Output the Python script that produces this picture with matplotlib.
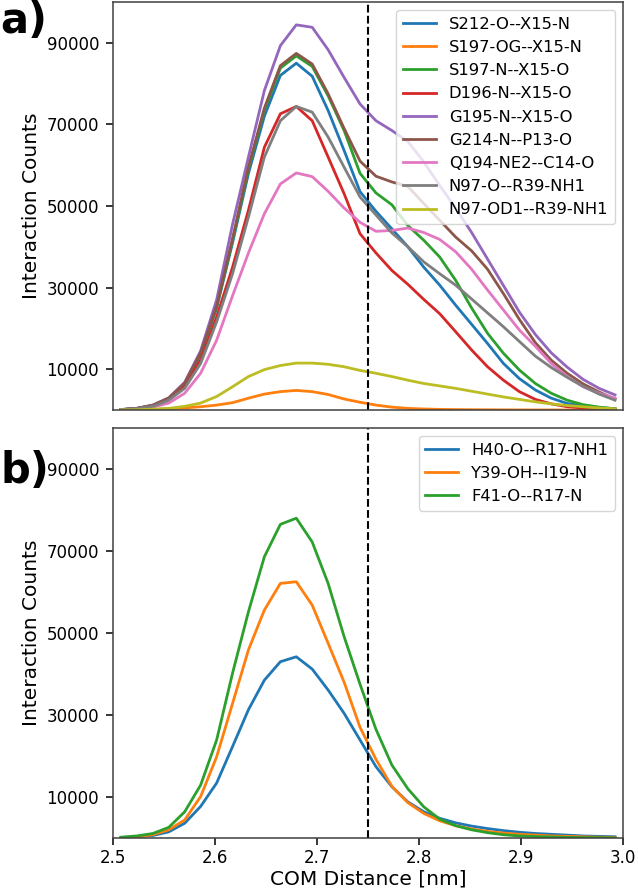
import numpy as np
import matplotlib
matplotlib.use("Agg")
import matplotlib.pyplot as plt

# bin centres of the COM distance histogram [nm]
x = [2.5078, 2.5234, 2.5391, 2.5547, 2.5703, 2.5859, 2.6016, 2.6172,
     2.6328, 2.6484, 2.6641, 2.6797, 2.6953, 2.7109, 2.7266, 2.7422,
     2.7578, 2.7734, 2.7891, 2.8047, 2.8203, 2.8359, 2.8516, 2.8672,
     2.8828, 2.8984, 2.9141, 2.9297, 2.9453, 2.9609, 2.9766, 2.9922]

# panel a, counts in thousands
labels_a = ['S212-O--X15-N', 'S197-OG--X15-N', 'S197-N--X15-O', 'D196-N--X15-O',
            'G195-N--X15-O', 'G214-N--P13-O', 'Q194-NE2--C14-O', 'N97-O--R39-NH1',
            'N97-OD1--R39-NH1']
s212 = [0.1, 0.4, 1.1, 2.8, 6.3, 13.5, 25.0, 41.0, 58.0, 72.0, 82.0, 85.0, 81.8, 73.4, 63.6, 53.5,
        48.7, 44.4, 40.0, 35.0, 30.6, 25.7, 21.0, 16.3, 11.4, 7.7, 4.9, 2.9, 1.6, 1.0, 0.6, 0.3]
s197_og = [0.0, 0.05, 0.15, 0.3, 0.5, 0.8, 1.2, 1.8, 2.9, 3.9, 4.5, 4.8, 4.5, 3.8, 2.7, 1.9,
           1.2, 0.7, 0.4, 0.25, 0.15, 0.1, 0.07, 0.05, 0.03, 0.02, 0.01, 0.01, 0.0, 0.0, 0.0, 0.0]
s197_n = [0.1, 0.4, 1.1, 2.9, 6.5, 13.8, 25.3, 41.5, 59.0, 73.5, 83.8, 86.8, 84.2, 77.0, 68.5, 58.0,
          53.2, 50.3, 45.2, 41.6, 37.5, 31.8, 25.0, 18.8, 13.9, 9.8, 6.5, 4.1, 2.4, 1.3, 0.7, 0.3]
d196 = [0.1, 0.3, 1.0, 2.6, 5.9, 12.2, 22.8, 35.0, 49.0, 64.4, 72.6, 74.4, 70.9, 62.0, 53.0, 43.2,
        38.5, 34.2, 30.8, 27.1, 23.6, 19.2, 14.7, 10.6, 7.3, 4.5, 2.6, 1.5, 0.8, 0.5, 0.3, 0.2]
g195 = [0.1, 0.4, 1.2, 3.0, 6.8, 14.5, 27.0, 45.5, 62.0, 78.3, 89.3, 94.4, 93.8, 88.3, 81.5, 75.0,
        70.9, 68.5, 65.8, 60.8, 55.0, 49.5, 43.5, 37.0, 30.5, 24.0, 18.5, 14.0, 10.5, 7.5, 5.3, 3.7]
g214 = [0.1, 0.4, 1.2, 2.9, 6.6, 14.0, 25.5, 42.0, 59.5, 74.0, 84.4, 87.4, 84.8, 77.5, 69.0, 61.0,
        57.3, 55.9, 54.8, 50.6, 46.5, 42.4, 39.0, 34.5, 28.5, 22.2, 16.5, 12.2, 9.0, 6.4, 4.4, 2.7]
q194 = [0.05, 0.2, 0.7, 1.7, 4.1, 9.0, 17.1, 28.0, 38.5, 48.1, 55.4, 58.1, 57.2, 53.6, 49.5, 46.0,
        43.8, 44.0, 44.6, 43.5, 41.8, 38.8, 34.5, 29.4, 24.5, 19.6, 15.6, 11.4, 8.2, 5.7, 4.1, 2.9]
n97_o = [0.1, 0.3, 0.9, 2.4, 5.3, 11.4, 21.6, 33.4, 47.3, 62.0, 70.9, 74.4, 73.0, 66.9, 59.5, 52.2,
         47.8, 43.4, 40.0, 36.3, 33.4, 30.6, 27.2, 23.8, 20.4, 16.8, 13.2, 10.4, 8.0, 5.8, 3.9, 2.4]
n97_od1 = [0.0, 0.05, 0.2, 0.4, 0.9, 1.7, 3.3, 5.7, 8.2, 9.9, 10.9, 11.5, 11.5, 11.2, 10.6, 9.7,
           9.0, 8.2, 7.3, 6.5, 5.9, 5.3, 4.6, 3.9, 3.2, 2.6, 2.0, 1.5, 1.1, 0.8, 0.5, 0.3]

# panel b, counts in thousands
labels_b = ['H40-O--R17-NH1', 'Y39-OH--I19-N', 'F41-O--R17-N']
h40 = [0.1, 0.3, 0.6, 1.5, 3.6, 7.7, 13.4, 22.3, 31.3, 38.5, 43.0, 44.2, 41.2, 36.1, 30.4, 23.9,
       17.4, 12.5, 8.8, 6.4, 4.8, 3.7, 2.9, 2.3, 1.8, 1.4, 1.1, 0.9, 0.7, 0.5, 0.4, 0.3]
y39 = [0.1, 0.3, 0.8, 2.0, 4.4, 10.1, 19.8, 32.8, 45.9, 55.6, 62.1, 62.5, 56.8, 47.5, 38.0, 27.0,
       19.2, 12.6, 8.6, 6.0, 4.2, 3.0, 2.2, 1.6, 1.2, 0.9, 0.7, 0.5, 0.4, 0.3, 0.2, 0.15]
f41 = [0.2, 0.5, 1.1, 2.6, 6.4, 12.9, 23.9, 40.2, 55.2, 68.6, 76.5, 78.0, 72.2, 62.1, 49.1, 37.5,
       26.5, 17.8, 12.0, 7.6, 4.6, 3.0, 2.0, 1.3, 0.8, 0.5, 0.35, 0.25, 0.15, 0.1, 0.08, 0.05]

cutoff = 2.75

series_a = [s212, s197_og, s197_n, d196, g195, g214, q194, n97_o, n97_od1]
series_b = [h40, y39, f41]

fig = plt.figure(figsize=(6.38, 8.88), dpi=100)
ax_a = fig.add_axes([113 / 638, 1 - 410 / 888, 510 / 638, 408 / 888])
ax_b = fig.add_axes([113 / 638, 1 - 838 / 888, 510 / 638, 410 / 888])

for ax, series, labels in [(ax_a, series_a, labels_a), (ax_b, series_b, labels_b)]:
    for values, label in zip(series, labels):
        ax.plot(x, np.array(values) * 1000, label=label, linewidth=2.0)
    ax.axvline(cutoff, color='black', linestyle='--', linewidth=1.5)
    ax.set_xlim(2.5, 3.0)
    ax.set_ylim(0, 100000)
    ax.set_yticks([10000, 30000, 50000, 70000, 90000])
    ax.set_ylabel('Interaction Counts', fontsize=14.5)
    ax.tick_params(labelsize=12, length=5, width=1.1, pad=5)
    for sp in ax.spines.values():
        sp.set_color('0.25')
        sp.set_linewidth(1.1)
    ax.legend(loc='upper right', fontsize=11.8)

ax_a.tick_params(axis='x', bottom=False, labelbottom=False)
ax_b.set_xticks([2.5, 2.6, 2.7, 2.8, 2.9, 3.0])
ax_b.tick_params(axis='x', pad=3)
ax_b.set_xlabel('COM Distance [nm]', fontsize=14.5, labelpad=2)

fig.text(0.0, 1 - 33 / 888, 'a)', fontsize=30, fontweight='bold', va='baseline', ha='left')
fig.text(0.0, 1 - 483 / 888, 'b)', fontsize=30, fontweight='bold', va='baseline', ha='left')

fig.savefig('out.png', dpi=100)
